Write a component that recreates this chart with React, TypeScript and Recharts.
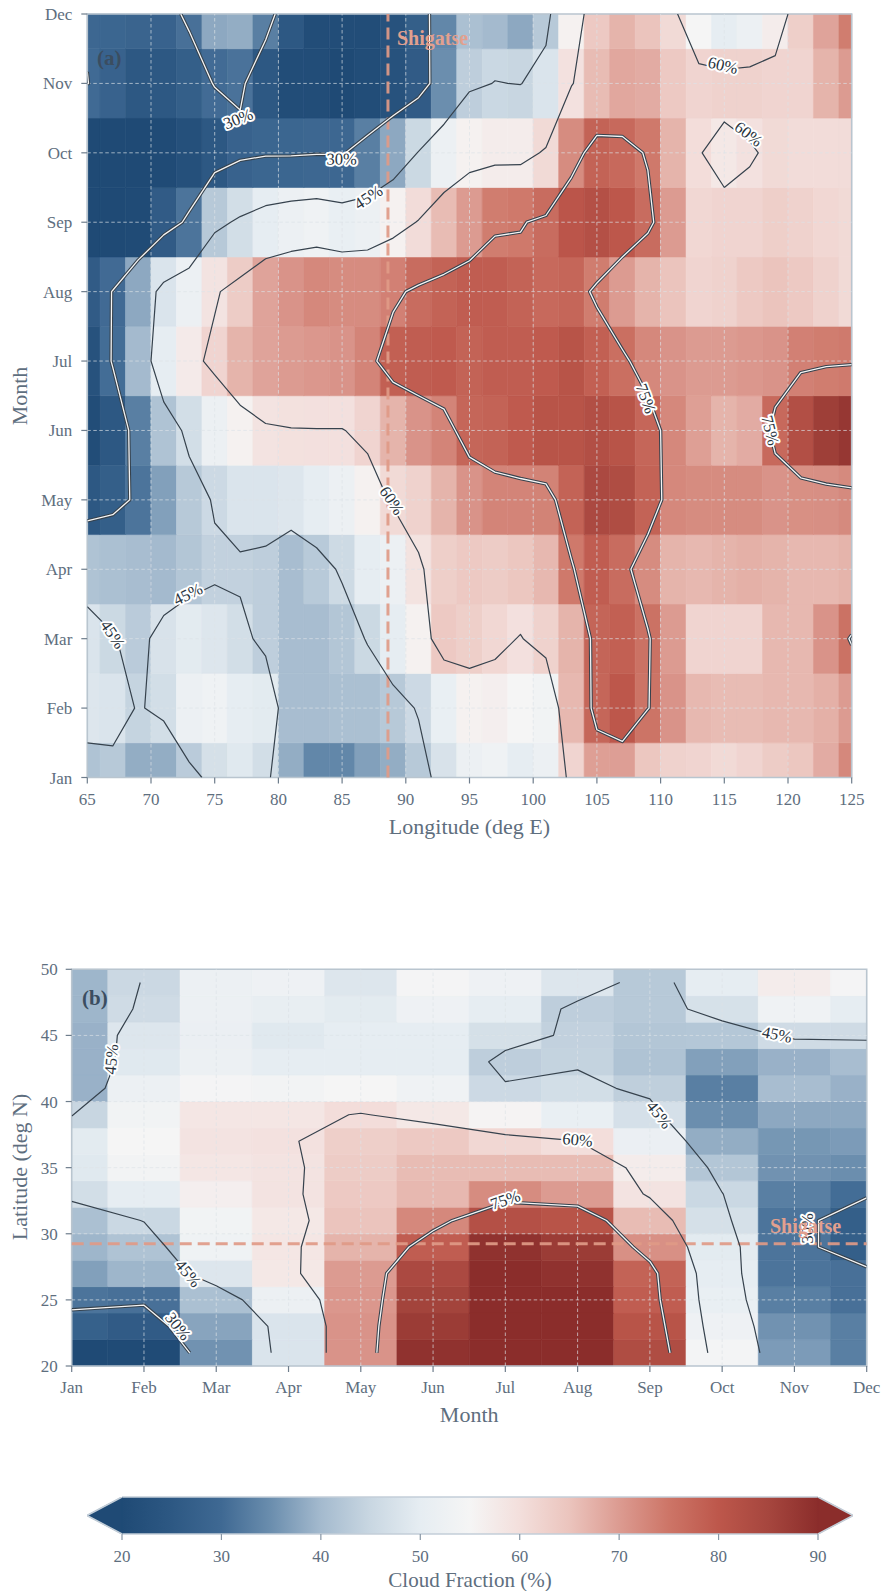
import React from 'react'
import { ComposedChart, XAxis, YAxis, ReferenceArea, ReferenceLine, Scatter } from 'recharts'

const FONT = '"Liberation Serif", "DejaVu Serif", serif'
const TEXT = '#5e6e7e'
const SPINE = '#b9c5cf'
const CONTOUR = '#36424d'

const MONTHS = ['Jan', 'Feb', 'Mar', 'Apr', 'May', 'Jun', 'Jul', 'Aug', 'Sep', 'Oct', 'Nov', 'Dec']
const MONTH_IDX = [0, 1, 2, 3, 4, 5, 6, 7, 8, 9, 10, 11]

// ---- panel (a): longitude x month ----
const LON = [65, 67, 69, 71, 73, 75, 77, 79, 81, 83, 85, 87, 89, 91, 93, 95, 97, 99, 101, 103, 105, 107, 109, 111, 113, 115, 117, 119, 121, 123, 125]
const LON_TICKS = [65, 70, 75, 80, 85, 90, 95, 100, 105, 110, 115, 120, 125]

const cfJan = [41.5, 42.5, 38.5, 38.5, 43, 47, 49, 46.5, 38.5, 34, 34, 37, 38.5, 42.5, 47.5, 52, 53, 50, 52, 62, 69.5, 69.6, 64.5, 62.5, 62, 61, 62, 63.5, 64.5, 68, 72.5]
const cfFeb = [48.5, 48, 44.5, 46.5, 52, 53, 50, 49.5, 40.5, 40.5, 41, 41, 42.5, 45.5, 51, 56, 56.5, 55, 53.5, 66.5, 77.5, 80, 75.2, 71, 66.5, 66, 66, 66.5, 66.5, 67.5, 70]
const cfMar = [48, 45.4, 43, 47.5, 49.5, 48.5, 46.5, 43.5, 40.5, 40.5, 42, 45.4, 50, 56, 64, 63, 61.5, 59.7, 62.5, 67, 77.7, 78.5, 75.5, 70, 62, 62, 62, 66.5, 66.5, 71, 75.5]
const cfApr = [41.5, 41, 40.5, 40, 42, 44, 44, 43.5, 40.5, 42.75, 45.75, 50, 52, 59.2, 63, 64, 63.5, 64.5, 66.5, 74.5, 79, 76.5, 72, 67, 66.5, 67, 67.5, 67, 66.5, 66.5, 67]
const cfMay = [25, 27, 31.5, 37, 42.5, 45.5, 48, 48, 48.5, 50, 52, 56, 61, 62.5, 67, 71, 73, 73, 73.2, 78, 84, 83, 78, 72.5, 72, 72, 72, 71, 71.5, 71.6, 72.3]
const cfJun = [21, 25, 33, 41.5, 46.5, 52, 56, 59, 59.6, 59.7, 59.7, 62, 67, 71, 73, 77.5, 78, 79.5, 81, 81, 82.5, 81, 77.5, 72.5, 69.5, 67, 68, 77, 82.5, 86.5, 88]
const cfJul = [23, 30.5, 40, 50, 57.5, 62, 67, 69, 70, 70.5, 71, 73, 78.5, 79, 79.5, 78, 79, 79, 79.5, 81, 78.5, 76, 72.5, 71, 70, 70, 70.5, 71, 73.5, 74, 74.3]
const cfAug = [26, 30.2, 38, 48, 52, 59, 63.5, 69, 71, 72.5, 72, 72, 73.5, 76.5, 78, 79, 79, 78, 77, 77.5, 74, 70, 67, 65, 62, 62.5, 64, 65, 64, 62.5, 61]
const cfSep = [20, 20, 20.5, 26, 31.5, 42.5, 46.5, 50, 52, 53, 51, 52, 56, 60.5, 66, 70, 74, 74.5, 76.5, 80.5, 82, 80, 76.5, 70, 61.5, 62, 62, 63, 62.5, 61.5, 61]
const cfOct = [20, 20, 20, 20.5, 22, 25, 28, 29, 29, 29.5, 29.5, 33, 38, 45.4, 52, 56, 57, 57, 61, 72, 78, 77, 74.5, 67, 60.3, 58, 59.5, 61, 60.5, 60.5, 60.5]
const cfNov = [30.1, 28, 25, 25, 27, 30.3, 31.25, 25, 21, 21, 20, 21, 23, 26, 35, 43.5, 45.2, 44.8, 48, 59.5, 66, 68.5, 68, 64, 62, 62.5, 62.5, 62, 62, 67, 70]
const cfDec = [29.5, 29, 28.5, 28, 31, 38, 38.5, 33, 25, 21, 21, 21, 23, 27, 34, 41, 40, 38, 42.5, 56, 64, 67, 65, 61, 55, 50, 52, 57, 63, 69, 74]
const LON_MONTH = [cfJan, cfFeb, cfMar, cfApr, cfMay, cfJun, cfJul, cfAug, cfSep, cfOct, cfNov, cfDec]

// ---- panel (b): month x latitude ----
const LAT = [21, 23, 25, 27, 29, 31, 33, 35, 37, 39, 41, 43, 45, 47, 49]
const LAT_TICKS = [20, 25, 30, 35, 40, 45, 50]

const cfLat21 = [20, 20.5, 35.5, 48, 71, 89, 90, 90, 83, 54.3, 36.5, 33]
const cfLat23 = [27.5, 26, 37.5, 48, 71, 87, 90, 90, 81, 52.5, 35.5, 33]
const cfLat25 = [31.5, 31, 41, 52, 70.5, 85.5, 90, 90, 79, 51, 33, 31]
const cfLat27 = [37, 39.5, 48.5, 58, 70, 84, 90, 89, 78, 50, 31.5, 31]
const cfLat29 = [39.5, 41.5, 53, 58.5, 67, 79, 89, 87, 71.4, 49.5, 31.5, 27]
const cfLat31 = [41, 45.2, 53.5, 58, 65, 72.5, 82, 81, 66, 47, 31.5, 27]
const cfLat33 = [46.5, 50, 56.5, 59, 64, 66.5, 72, 70, 59, 45.2, 33, 30.5]
const cfLat35 = [49, 54, 58.5, 59, 63.5, 66, 66, 66, 57, 42, 35.5, 35]
const cfLat37 = [49.5, 55, 59, 59.5, 63, 64, 61.5, 60.1, 51.5, 38.5, 36, 36.5]
const cfLat39 = [44.8, 53.5, 58.5, 58.5, 60.3, 58, 55.5, 51, 47.1, 35, 38, 38]
const cfLat41 = [39, 52, 54.5, 54, 55, 53, 45.5, 46.6, 43.6, 33, 40.5, 39]
const cfLat43 = [39, 49, 52, 50, 50, 50, 43.5, 44.3, 41.5, 37, 39, 40.5]
const cfLat45 = [39, 48.5, 51.5, 49, 50, 50, 47, 44, 42, 42.2, 46, 46]
const cfLat47 = [39.5, 46, 52, 50.5, 49.5, 52.5, 50, 43.5, 42.5, 47.3, 53, 50]
const cfLat49 = [39.5, 45.3, 52, 52.5, 48.5, 54.5, 52.5, 48.5, 42.5, 50, 57, 54.5]
const MONTH_LAT = [cfLat21, cfLat23, cfLat25, cfLat27, cfLat29, cfLat31, cfLat33, cfLat35, cfLat37, cfLat39, cfLat41, cfLat43, cfLat45, cfLat47, cfLat49]

const LEVELS = [30, 45, 60, 75]

// inline contour labels (data coordinates); rot only where the local line direction misleads
const labelsA: { level: number; x: number; y: number; rot?: number }[] = [
  { level: 30, x: 76.85, y: 9.49, rot: -22 },
  { level: 30, x: 84.97, y: 8.91 },
  { level: 45, x: 87.06, y: 8.36 },
  { level: 60, x: 114.9, y: 10.26 },
  { level: 60, x: 116.9, y: 9.27 },
  { level: 75, x: 108.85, y: 5.46 },
  { level: 75, x: 118.6, y: 5.0 },
  { level: 60, x: 88.9, y: 3.99 },
  { level: 45, x: 72.9, y: 2.64 },
  { level: 45, x: 67.0, y: 2.06 },
]
const labelsB: { level: number; x: number; y: number; rot?: number }[] = [
  { level: 45, x: 0.55, y: 43.2 },
  { level: 45, x: 1.61, y: 27.0 },
  { level: 30, x: 1.47, y: 23.0 },
  { level: 75, x: 6.0, y: 32.56 },
  { level: 60, x: 7.0, y: 37.1 },
  { level: 45, x: 8.13, y: 39.0 },
  { level: 45, x: 9.76, y: 45.07 },
  { level: 30, x: 10.18, y: 30.4 },
]

const SHIGATSE_LON = 88.6
const SHIGATSE_LAT = 29.25

const CB_TICKS = [20, 30, 40, 50, 60, 70, 80, 90]
const CMAP: [number, string][] = [
  [20, '#1f4a75'], [25, '#2d5883'], [30, '#3f6993'], [35, '#6b8eae'], [40, '#a4bace'],
  [45, '#c9d7e2'], [50, '#e6edf2'], [55, '#f5f5f5'], [60, '#f3dfdc'], [65, '#ebc4bd'],
  [70, '#dc9b91'], [75, '#cd7567'], [80, '#bd574b'], [85, '#a6463e'], [90, '#8b2d2b'],
]

// plot boxes in page pixels
const A = { left: 87.3, top: 14, right: 851.7, bottom: 777.5 }
const B_TOP = 900
const B = { left: 71.7, top: 969.3, right: 866.7, bottom: 1366 }
const CB_TOP = 1440
const CB_BAR = { top: 1497, bottom: 1534, left: 122, right: 818 }
const CB_TRI = 35
const CB_PAD = CB_TRI / ((CB_BAR.right - CB_BAR.left) / 70)

function hex(h: string) {
  return [1, 3, 5].map((k) => parseInt(h.slice(k, k + 2), 16))
}
function cfColor(v: number) {
  if (v <= CMAP[0][0]) return CMAP[0][1]
  for (let k = 0; k < CMAP.length - 1; k++) {
    const [v0, c0] = CMAP[k]
    const [v1, c1] = CMAP[k + 1]
    if (v <= v1) {
      const t = (v - v0) / (v1 - v0)
      const a = hex(c0)
      const b = hex(c1)
      const m = a.map((x, i) => Math.round(x + (b[i] - x) * t))
      return `rgb(${m[0]},${m[1]},${m[2]})`
    }
  }
  return CMAP[CMAP.length - 1][1]
}

type Pt = { x: number; y: number }
type Line = { level: number; pts: Pt[] }

// marching squares on a cell-centred grid, z[j][i] at (xs[i], ys[j])
function contour(xs: number[], ys: number[], z: number[][], level: number): Line[] {
  const pts = new Map<string, Pt>()
  const segs: [string, string][] = []
  const edge = (key: string, x1: number, y1: number, v1: number, x2: number, y2: number, v2: number) => {
    if (!pts.has(key)) {
      const t = (level - v1) / (v2 - v1)
      pts.set(key, { x: x1 + t * (x2 - x1), y: y1 + t * (y2 - y1) })
    }
    return key
  }
  for (let j = 0; j < ys.length - 1; j++) {
    for (let i = 0; i < xs.length - 1; i++) {
      const a = z[j][i], b = z[j][i + 1], c = z[j + 1][i + 1], d = z[j + 1][i]
      const A1 = a >= level, B1 = b >= level, C1 = c >= level, D1 = d >= level
      const e: Record<string, string> = {}
      if (A1 !== B1) e.bottom = edge(`h${i}_${j}`, xs[i], ys[j], a, xs[i + 1], ys[j], b)
      if (B1 !== C1) e.right = edge(`v${i + 1}_${j}`, xs[i + 1], ys[j], b, xs[i + 1], ys[j + 1], c)
      if (D1 !== C1) e.top = edge(`h${i}_${j + 1}`, xs[i], ys[j + 1], d, xs[i + 1], ys[j + 1], c)
      if (A1 !== D1) e.left = edge(`v${i}_${j}`, xs[i], ys[j], a, xs[i], ys[j + 1], d)
      const ks = Object.values(e)
      if (ks.length === 2) segs.push([ks[0], ks[1]])
      else if (ks.length === 4) {
        const centre = (a + b + c + d) / 4 >= level
        if (centre === A1) {
          segs.push([e.bottom, e.right])
          segs.push([e.top, e.left])
        } else {
          segs.push([e.bottom, e.left])
          segs.push([e.right, e.top])
        }
      }
    }
  }
  const byKey = new Map<string, number[]>()
  segs.forEach((s, n) => s.forEach((k) => {
    if (!byKey.has(k)) byKey.set(k, [])
    byKey.get(k)!.push(n)
  }))
  const used = segs.map(() => false)
  const out: Line[] = []
  segs.forEach((s, n) => {
    if (used[n]) return
    used[n] = true
    const chain = [s[0], s[1]]
    for (;;) {
      const end = chain[chain.length - 1]
      const nx = (byKey.get(end) || []).find((m) => !used[m])
      if (nx === undefined) break
      used[nx] = true
      chain.push(segs[nx][0] === end ? segs[nx][1] : segs[nx][0])
    }
    for (;;) {
      const st = chain[0]
      const nx = (byKey.get(st) || []).find((m) => !used[m])
      if (nx === undefined) break
      used[nx] = true
      chain.unshift(segs[nx][0] === st ? segs[nx][1] : segs[nx][0])
    }
    out.push({ level, pts: chain.map((k) => pts.get(k)!) })
  })
  return out
}

// rotation of an inline label, taken from the nearest contour segment (screen space)
function labelAngle(lines: Line[], level: number, x: number, y: number, sx: number, sy: number) {
  let best = Infinity
  let ang = 0
  const X = x * sx, Y = -y * sy
  lines.filter((l) => l.level === level).forEach((l) => {
    for (let k = 0; k < l.pts.length - 1; k++) {
      const px = l.pts[k].x * sx, py = -l.pts[k].y * sy
      const qx = l.pts[k + 1].x * sx, qy = -l.pts[k + 1].y * sy
      const dx = qx - px, dy = qy - py
      const len2 = dx * dx + dy * dy || 1
      const t = Math.max(0, Math.min(1, ((X - px) * dx + (Y - py) * dy) / len2))
      const ex = px + t * dx - X, ey = py + t * dy - Y
      const dist = ex * ex + ey * ey
      if (dist < best) {
        best = dist
        ang = (Math.atan2(dy, dx) * 180) / Math.PI
      }
    }
  })
  if (ang > 90) ang -= 180
  if (ang < -90) ang += 180
  return ang
}

const linesA = LEVELS.flatMap((lv) => contour(LON, MONTH_IDX, LON_MONTH, lv))
const linesB = LEVELS.flatMap((lv) => contour(MONTH_IDX, LAT, MONTH_LAT, lv))

const sxA = (A.right - A.left) / 60, syA = (A.bottom - A.top) / 11
const sxB = (B.right - B.left) / 11, syB = (B.bottom - B.top) / 30

const labelDataA = labelsA.map((l) => ({ x: l.x, y: l.y, text: `${l.level}%`, angle: l.rot ?? labelAngle(linesA, l.level, l.x, l.y, sxA, syA) }))
const labelDataB = labelsB.map((l) => ({ x: l.x, y: l.y, text: `${l.level}%`, angle: l.rot ?? labelAngle(linesB, l.level, l.x, l.y, sxB, syB) }))

const NoDot = () => <g />

const ContourLabel = (props: any) => {
  const { cx, cy, payload } = props
  if (cx == null || cy == null) return <g />
  return (
    <text
      x={cx}
      y={cy}
      textAnchor="middle"
      dominantBaseline="central"
      transform={`rotate(${payload.angle} ${cx} ${cy})`}
      fontFamily={FONT}
      fontSize={16.5}
      fill="#28333d"
      stroke="#ffffff"
      strokeWidth={4}
      strokeLinejoin="round"
      style={{ paintOrder: 'stroke' }}
    >
      {payload.text}
    </text>
  )
}

function contourSeries(lines: Line[], prefix: string) {
  const out: React.ReactNode[] = []
  lines.forEach((ln, k) => {
    const data = ln.pts.map((p) => ({ x: p.x, y: p.y }))
    const major = ln.level === 30 || ln.level === 75
    out.push(
      <Scatter key={`${prefix}l${k}`} data={data} fill="none" shape={NoDot} isAnimationActive={false} legendType="none"
        line={{ stroke: CONTOUR, strokeWidth: major ? 3.4 : 1.2, strokeLinejoin: 'round', fill: 'none' }} />,
    )
    if (major) {
      out.push(
        <Scatter key={`${prefix}w${k}`} data={data} fill="none" shape={NoDot} isAnimationActive={false} legendType="none"
          line={{ stroke: '#f4f4f4', strokeWidth: 1.3, strokeLinejoin: 'round', fill: 'none' }} />,
      )
    }
  })
  return out
}

const tickStyle = { fill: TEXT, fontSize: 17, fontFamily: FONT }
const tickLine = { stroke: '#6e7d8c', strokeWidth: 1.2 }
const grid = { stroke: '#dde2e7', strokeOpacity: 0.75, strokeWidth: 0.9, strokeDasharray: '3.5 2.5' }

function cellsA() {
  const out: React.ReactNode[] = []
  LON_MONTH.forEach((row, j) => row.forEach((v, i) => {
    const c = cfColor(v)
    out.push(
      <ReferenceArea key={`ca${j}_${i}`} x1={Math.max(LON[i] - 1, 65)} x2={Math.min(LON[i] + 1, 125)}
        y1={Math.max(j - 0.5, 0)} y2={Math.min(j + 0.5, 11)} fill={c} fillOpacity={1} stroke={c} strokeWidth={0.6} ifOverflow="visible" />,
    )
  }))
  return out
}

function cellsB() {
  const out: React.ReactNode[] = []
  MONTH_LAT.forEach((row, j) => row.forEach((v, i) => {
    const c = cfColor(v)
    out.push(
      <ReferenceArea key={`cb${j}_${i}`} x1={Math.max(i - 0.5, 0)} x2={Math.min(i + 0.5, 11)}
        y1={LAT[j] - 1} y2={LAT[j] + 1} fill={c} fillOpacity={1} stroke={c} strokeWidth={0.6} ifOverflow="visible" />,
    )
  }))
  return out
}

// colour-bar extension triangles (under / over)
const CB_ENDS = [
  { x: 20, y: 0.5, dir: -1, color: CMAP[0][1] },
  { x: 90, y: 0.5, dir: 1, color: CMAP[CMAP.length - 1][1] },
]
const CB_OUTLINE = '#c3ced8'
const EndTriangle = (props: any) => {
  const { cx, cy, payload } = props
  if (cx == null || cy == null) return <g />
  const h = (CB_BAR.bottom - CB_BAR.top) / 2
  const tip = cx + payload.dir * CB_TRI
  return (
    <g>
      <polygon points={`${cx},${cy - h} ${tip},${cy} ${cx},${cy + h}`} fill={payload.color} stroke={payload.color} strokeWidth={0.6} />
      <polyline points={`${cx},${cy - h} ${tip},${cy} ${cx},${cy + h}`} fill="none" stroke={CB_OUTLINE} strokeWidth={1.6} strokeLinejoin="miter" />
    </g>
  )
}

export default function App() {
  return (
    <div style={{ position: 'absolute', left: 0, top: 0, width: 883, height: 1591, background: '#ffffff', overflow: 'hidden' }}>
      {/* (a) longitude - month */}
      <div style={{ position: 'absolute', left: 0, top: 0 }}>
        <ComposedChart width={883} height={860} margin={{ top: A.top, right: 883 - A.right, bottom: 860 - A.bottom - 60, left: 0 }}>
          <XAxis type="number" dataKey="x" domain={[65, 125]} ticks={LON_TICKS} interval={0} allowDataOverflow
            height={60} tickSize={6} tickMargin={9} tick={tickStyle} tickLine={tickLine} axisLine={false} />
          <YAxis type="number" dataKey="y" domain={[0, 11]} ticks={MONTH_IDX} interval={0} allowDataOverflow
            width={A.left} tickSize={6} tickMargin={9} tick={tickStyle} tickLine={tickLine} axisLine={false}
            tickFormatter={(v: number) => MONTHS[v]} />
          {cellsA()}
          {LON_TICKS.slice(1, -1).map((v) => (
            <ReferenceLine key={`gx${v}`} x={v} {...grid} />
          ))}
          {MONTH_IDX.slice(1, -1).map((v) => (
            <ReferenceLine key={`gy${v}`} y={v} {...grid} />
          ))}
          <ReferenceLine x={SHIGATSE_LON} stroke="#e09a87" strokeOpacity={0.92} strokeWidth={3} strokeDasharray="12 6" />
          {contourSeries(linesA, 'a')}
          <Scatter data={labelDataA} shape={ContourLabel} isAnimationActive={false} legendType="none" />
          <ReferenceArea x1={65} x2={125} y1={0} y2={11} fill="none" fillOpacity={0} stroke={SPINE} strokeWidth={1.6} ifOverflow="visible" />
        </ComposedChart>
      </div>

      {/* (b) month - latitude */}
      <div style={{ position: 'absolute', left: 0, top: B_TOP }}>
        <ComposedChart width={883} height={520} margin={{ top: B.top - B_TOP, right: 883 - B.right, bottom: 0, left: 0 }}>
          <XAxis type="number" dataKey="x" domain={[0, 11]} ticks={MONTH_IDX} interval={0} allowDataOverflow
            height={B_TOP + 520 - B.bottom} tickSize={6} tickMargin={9} tick={tickStyle} tickLine={tickLine} axisLine={false}
            tickFormatter={(v: number) => MONTHS[v]} />
          <YAxis type="number" dataKey="y" domain={[20, 50]} ticks={LAT_TICKS} interval={0} allowDataOverflow
            width={B.left} tickSize={6} tickMargin={8} tick={tickStyle} tickLine={tickLine} axisLine={false} />
          {cellsB()}
          {MONTH_IDX.slice(1, -1).map((v) => (
            <ReferenceLine key={`gx${v}`} x={v} {...grid} />
          ))}
          {LAT_TICKS.slice(1, -1).map((v) => (
            <ReferenceLine key={`gy${v}`} y={v} {...grid} />
          ))}
          <ReferenceLine y={SHIGATSE_LAT} stroke="#e09a87" strokeOpacity={0.92} strokeWidth={3} strokeDasharray="12 6" />
          {contourSeries(linesB, 'b')}
          <Scatter data={labelDataB} shape={ContourLabel} isAnimationActive={false} legendType="none" />
          <ReferenceArea x1={0} x2={11} y1={20} y2={50} fill="none" fillOpacity={0} stroke={SPINE} strokeWidth={1.6} ifOverflow="visible" />
        </ComposedChart>
      </div>

      {/* colour bar: x domain padded so the extension triangles sit inside the plot area */}
      <div style={{ position: 'absolute', left: 0, top: CB_TOP }}>
        <ComposedChart width={883} height={151}
          margin={{ top: CB_BAR.top - CB_TOP, right: 883 - CB_BAR.right - CB_TRI, bottom: CB_TOP + 151 - CB_BAR.bottom - 40, left: CB_BAR.left - CB_TRI }}>
          <defs>
            <linearGradient id="cbGrad" x1="0" x2="1" y1="0" y2="0">
              {CMAP.map(([v, c]) => (
                <stop key={v} offset={(v - 20) / 70} stopColor={c} />
              ))}
            </linearGradient>
          </defs>
          <XAxis type="number" dataKey="x" domain={[20 - CB_PAD, 90 + CB_PAD]} ticks={CB_TICKS} interval={0} allowDataOverflow
            height={40} tickSize={6} tickMargin={10} tick={tickStyle} tickLine={{ stroke: '#8796a5', strokeWidth: 1.2 }} axisLine={false} />
          <YAxis type="number" dataKey="y" domain={[0, 1]} width={0} tick={false} tickLine={false} axisLine={false} allowDataOverflow />
          <ReferenceArea x1={20} x2={90} y1={0} y2={1} fill="url(#cbGrad)" fillOpacity={1} stroke="none" ifOverflow="visible" />
          <ReferenceLine segment={[{ x: 20, y: 1 }, { x: 90, y: 1 }]} stroke={CB_OUTLINE} strokeWidth={1.6} />
          <ReferenceLine segment={[{ x: 20, y: 0 }, { x: 90, y: 0 }]} stroke={CB_OUTLINE} strokeWidth={1.6} />
          <Scatter data={CB_ENDS} shape={EndTriangle} isAnimationActive={false} legendType="none" />
        </ComposedChart>
      </div>

      {/* titles and annotations */}
      <svg width={883} height={1591} style={{ position: 'absolute', left: 0, top: 0, pointerEvents: 'none' }} fontFamily={FONT}>
        <text x={97} y={65} fontSize={21} fontWeight="bold" fill="#3b4d60">(a)</text>
        <text x={397} y={45} fontSize={20} fontWeight="bold" fill="#e2a08e">Shigatse</text>
        <text x={469.5} y={834} fontSize={22} fill={TEXT} textAnchor="middle">Longitude (deg E)</text>
        <text transform="translate(27 396) rotate(-90)" fontSize={22} fill={TEXT} textAnchor="middle">Month</text>

        <text x={82} y={1005} fontSize={21} fontWeight="bold" fill="#3b4d60">(b)</text>
        <text x={770} y={1233} fontSize={20} fontWeight="bold" fill="#e2a08e">Shigatse</text>
        <text x={469.2} y={1422} fontSize={22} fill={TEXT} textAnchor="middle">Month</text>
        <text transform="translate(27 1167) rotate(-90)" fontSize={22} fill={TEXT} textAnchor="middle">Latitude (deg N)</text>

        <text x={470} y={1587} fontSize={21} fill={TEXT} textAnchor="middle">Cloud Fraction (%)</text>
      </svg>
    </div>
  )
}
